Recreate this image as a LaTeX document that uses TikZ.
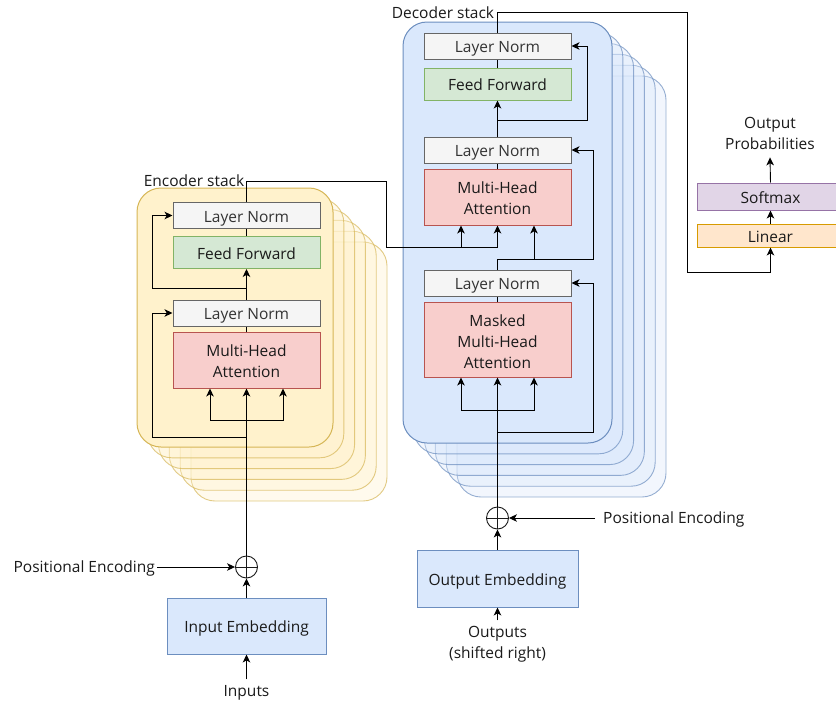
\documentclass[tikz,border=0pt]{standalone}
\usepackage{fontspec}
\setmainfont{Open Sans}
\usetikzlibrary{arrows.meta}

\definecolor{lnFill}{HTML}{F5F5F5}
\definecolor{lnLine}{HTML}{666666}
\definecolor{ffFill}{HTML}{D5E8D4}
\definecolor{ffLine}{HTML}{82B366}
\definecolor{mhFill}{HTML}{F8CECC}
\definecolor{mhLine}{HTML}{B85450}
\definecolor{blFill}{HTML}{DAE8FC}
\definecolor{blLine}{HTML}{6C8EBF}
\definecolor{ylFill}{HTML}{FFF2CC}
\definecolor{ylLine}{HTML}{D6B656}
\definecolor{orFill}{HTML}{FFE6CC}
\definecolor{orLine}{HTML}{D79B00}
\definecolor{puFill}{HTML}{E1D5E7}
\definecolor{puLine}{HTML}{9673A6}
\definecolor{ink}{HTML}{1A1A1A}
\definecolor{greyInk}{HTML}{333333}

\tikzset{
  box/.style={draw, line width=1pt, minimum width=147pt, align=center,
              inner sep=0pt, text=ink, font=\fontsize{15.5}{21}\selectfont},
  % struts that give every text block the same optical centre
  oneline/.style={execute at begin node={\rule[-4pt]{0pt}{21pt}}},
  twolines/.style={execute at begin node={\rule{0pt}{36pt}}},
  threelines/.style={execute at begin node={\rule{0pt}{58pt}}},
  normbox/.style={box, oneline, fill=lnFill, draw=lnLine, text=greyInk, minimum height=26pt},
  ffbox/.style={box, oneline, fill=ffFill, draw=ffLine, minimum height=32pt},
  attbox/.style={box, fill=mhFill, draw=mhLine},
  embbox/.style={box, oneline, fill=blFill, draw=blLine},
  label/.style={text=ink, align=center, inner sep=0pt, font=\fontsize{15.5}{21}\selectfont},
  conn/.style={draw=black, line width=0.9pt},
  arr/.style={conn, -{Stealth[length=8pt,width=7.5pt,inset=2.2pt]}},
  trunk/.style={draw=black, line width=1.7pt},
  adder/.style={circle, draw=ink, line width=0.9pt, minimum size=22pt, inner sep=0pt},
}

% a stack of identical rounded layers, the front one opaque
\newcommand{\layerstack}[6]{% x1, y1, x2, y2, fill, line
  \foreach \k in {5,4,3,2,1}{
    \fill[#5, fill opacity=0.35, rounded corners=24pt]
      ({#1+\k*10.8},{#2+\k*10.8}) rectangle ({#3+\k*10.8},{#4+\k*10.8});
    \draw[#6, draw opacity=0.7, line width=0.9pt, rounded corners=24pt]
      ({#1+\k*10.8},{#2+\k*10.8}) rectangle ({#3+\k*10.8},{#4+\k*10.8});
  }
  \draw[#6, fill=#5, line width=1pt, rounded corners=24pt] (#1,#2) rectangle (#3,#4);
}

\begin{document}
\begin{tikzpicture}[x=1pt,y=-1pt]
\path[use as bounding box] (0,0) rectangle (836,702);
\clip (0,0) rectangle (836,702);
\fill[white] (0,0) rectangle (836,702);

% ---------- layer stacks ----------
\layerstack{137}{188}{333}{447}{ylFill}{ylLine}
\layerstack{403}{22}{612}{443}{blFill}{blLine}

\node[label, anchor=center] (encLbl) at (194,180.5) {Encoder stack};
\node[label, anchor=center] (decLbl) at (443,12.5) {Decoder stack};

% ---------- encoder layer ----------
\node[normbox] (ln1e) at (246.5,215.5) {Layer Norm};
\node[ffbox]   (ffe)  at (246.5,252.5) {Feed Forward};
\node[normbox] (ln2e) at (246.5,313) {Layer Norm};
\node[attbox, twolines, minimum height=56pt] (mhae) at (246.5,360) {Multi-Head\\Attention};

% ---------- decoder layer ----------
\node[normbox] (ln1d) at (497.5,46) {Layer Norm};
\node[ffbox]   (ffd)  at (497.5,84) {Feed Forward};
\node[normbox] (ln2d) at (497.5,150) {Layer Norm};
\node[attbox, twolines, minimum height=56pt] (mhad) at (497.5,197) {Multi-Head\\Attention};
\node[normbox] (ln3d) at (497.5,283) {Layer Norm};
\node[attbox, threelines, minimum height=75pt] (mmhad) at (497.5,339.5) {Masked\\Multi-Head\\Attention};

% ---------- output head ----------
\node[box, oneline, fill=orFill, draw=orLine, minimum height=23pt] (linear) at (770.5,235.5) {Linear};
\node[box, oneline, fill=puFill, draw=puLine, minimum height=27pt] (softmax) at (770.5,196.5) {Softmax};
\node[label] (probs) at (770,133) {Output\\Probabilities};

% ---------- embeddings and inputs ----------
\node[embbox, minimum width=159pt, minimum height=56pt] (inEmb) at (246.5,626) {Input Embedding};
\node[adder] (sumE) at (246.5,567) {};
\draw[ink, line width=0.9pt] (sumE.north) -- (sumE.south) (sumE.west) -- (sumE.east);
\node[label] (inputs) at (246.5,693) {Inputs};
\node[label, anchor=east] (peE) at (155,568) {Positional Encoding};

\node[embbox, minimum width=161pt, minimum height=57pt] (outEmb) at (497.5,578.5) {Output Embedding};
\node[adder] (sumD) at (497.5,518) {};
\draw[ink, line width=0.9pt] (sumD.north) -- (sumD.south) (sumD.west) -- (sumD.east);
\node[label] (outputs) at (497.5,644.5) {Outputs\\(shifted right)};
\node[label, anchor=west] (peD) at (603,519) {Positional Encoding};

% ---------- encoder connections ----------
\draw[arr] (inputs.north) ++(0,-6) -- (inEmb.south);
\draw[arr] (inEmb.north) -- (sumE.south);
\draw[arr] (peE.east) ++(2,-1) -- (sumE.west);

\coordinate (eRes)  at (246.5,437);
\coordinate (eResL) at (152,437);
\coordinate (eQKV)  at (246.5,420);
\coordinate (eFF)   at (246.5,288);
\coordinate (eFFL)  at (152,288);
\draw[trunk] (sumE.north) -- (eRes);
\draw[conn] (eRes) -- (eQKV);
\draw[arr] (eQKV) -- (mhae.south);
\draw[arr] (eQKV) -| ([xshift=-36.5pt]mhae.south);
\draw[arr] (eQKV) -| ([xshift=36.5pt]mhae.south);
\draw[arr] (eRes) -- (eResL) |- (ln2e.west);
\draw[conn] (mhae.north) -- (ln2e.south);
\draw[arr] (ln2e.north) -- (ffe.south);
\draw[arr] (eFF) -- (eFFL) |- (ln1e.west);
\draw[conn] (ffe.north) -- (ln1e.south);

% encoder output into decoder cross-attention
\coordinate (eOutTop) at (246.5,181);
\coordinate (eOutR)   at (386,181);
\coordinate (eOutIn)  at (386,247);
\coordinate (kvJoin)  at (497.5,247);
\draw[conn] (ln1e.north) -- (eOutTop) -- (eOutR) -- (eOutIn) -- (kvJoin);
\draw[arr] (kvJoin) -- (mhad.south);
\draw[arr] (eOutIn) -| ([xshift=-36.5pt]mhad.south);

% ---------- decoder connections ----------
\draw[arr] (outputs.north) ++(0,-6) -- (outEmb.south);
\draw[arr] (outEmb.north) -- (sumD.south);
\draw[arr] (peD.west) ++(-8,-1) -- (sumD.east);

\coordinate (dRes)  at (497.5,432);
\coordinate (dResR) at (593,432);
\coordinate (dQKV)  at (497.5,410);
\draw[trunk] (sumD.north) -- (dRes);
\draw[conn] (dRes) -- (dQKV);
\draw[arr] (dQKV) -- (mmhad.south);
\draw[arr] (dQKV) -| ([xshift=-36.5pt]mmhad.south);
\draw[arr] (dQKV) -| ([xshift=36.5pt]mmhad.south);
\draw[arr] (dRes) -- (dResR) |- (ln3d.east);
\draw[conn] (mmhad.north) -- (ln3d.south);

\coordinate (qUp)  at (497.5,259);
\coordinate (qR)   at (593,259);
\draw[conn] (ln3d.north) -- (qUp);
\draw[arr] (qUp) -- (qR) |- (ln2d.east);
\draw[arr] (qUp) -| ([xshift=36.5pt]mhad.south);
\draw[conn] (mhad.north) -- (ln2d.south);

\coordinate (dFF)  at (497.5,120);
\coordinate (dFFR) at (587,120);
\draw[arr] (ln2d.north) -- (ffd.south);
\draw[arr] (dFF) -- (dFFR) |- (ln1d.east);
\draw[conn] (ffd.north) -- (ln1d.south);

% decoder output to the head
\coordinate (dOutTop) at (497.5,12);
\coordinate (dOutR)   at (687,12);
\coordinate (dOutLow) at (687,272);
\coordinate (linIn)   at (770.5,272);
\draw[conn] (ln1d.north) -- (dOutTop) -- (dOutR) -- (dOutLow) -- (linIn);
\draw[arr] (linIn) -- (linear.south);
\draw[arr] (linear.north) -- (softmax.south);
\draw[arr] (softmax.north) -- ([yshift=-8pt]probs.south);
\end{tikzpicture}
\end{document}
